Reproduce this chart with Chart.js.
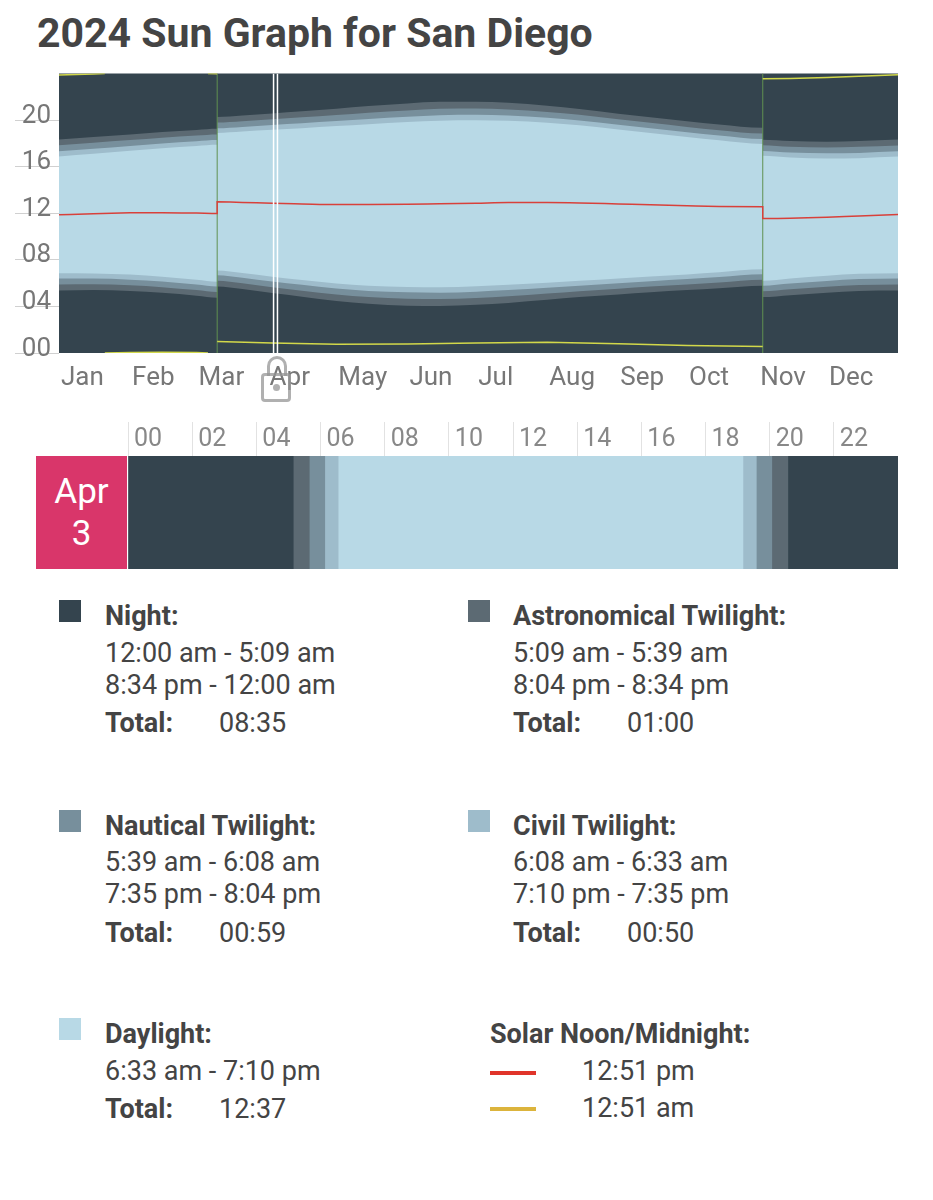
<!DOCTYPE html>
<html>
<head>
<meta charset="utf-8">
<title>2024 Sun Graph for San Diego</title>
<script src="https://cdn.jsdelivr.net/npm/chart.js@4"></script>
<style>
  body { margin: 0; width: 933px; height: 1200px; background: #fff; position: relative; overflow: hidden;
         font-family: Roboto, "Noto Sans", sans-serif; color: #444; }
  h1 { position: absolute; left: 37px; top: 9px; margin: 0; font-size: 41px; line-height: 48px; font-weight: 700; color: #444; }
  #yearBox { position: absolute; left: 0; top: 60px; width: 933px; height: 340px; }
  #dayBox { position: absolute; left: 0; top: 415px; width: 933px; height: 154px; }
  .date { position: absolute; left: 36px; top: 456px; width: 91px; height: 113px; box-sizing: border-box; padding-top: 15px;
          background: #d9366a; color: #fff; font-size: 35px; line-height: 42px; text-align: center; }
  .lock-body { position: absolute; left: 261px; top: 373px; width: 30px; height: 29px; box-sizing: border-box;
               border: 3px solid rgba(150,150,150,0.75); border-radius: 4px; }
  .lock-arc { position: absolute; left: 267px; top: 356px; width: 20px; height: 20px; box-sizing: border-box;
              border: 3px solid rgba(150,150,150,0.75); border-bottom: none; border-radius: 10px 10px 0 0; }
  .lock-dot { position: absolute; left: 273px; top: 384px; width: 7px; height: 7px; border-radius: 50%; background: rgba(150,150,150,0.75); }
  .t { position: absolute; font-size: 27px; line-height: 32px; white-space: nowrap; }
  .b { font-weight: 700; }
  .sw { position: absolute; width: 22px; height: 22px; }
  .ln { position: absolute; width: 46px; height: 4px; }
</style>
</head>
<body>
<h1>2024 Sun Graph for San Diego</h1>
<div id="yearBox"><canvas id="yearChart"></canvas></div>
<div class="lock-arc"></div><div class="lock-body"></div><div class="lock-dot"></div>
<div id="dayBox"><canvas id="dayChart"></canvas></div>
<div class="date">Apr<br>3</div>

<div class="sw" style="left:59px;top:600px;background:#34444e"></div>
<div class="t b" style="left:105px;top:600px">Night:</div>
<div class="t" style="left:105px;top:637px">12:00 am - 5:09 am</div>
<div class="t" style="left:105px;top:669px">8:34 pm - 12:00 am</div>
<div class="t b" style="left:105px;top:707px">Total:</div>
<div class="t" style="left:219px;top:707px">08:35</div>

<div class="sw" style="left:468px;top:600px;background:#5c6a73"></div>
<div class="t b" style="left:513px;top:600px">Astronomical Twilight:</div>
<div class="t" style="left:513px;top:637px">5:09 am - 5:39 am</div>
<div class="t" style="left:513px;top:669px">8:04 pm - 8:34 pm</div>
<div class="t b" style="left:513px;top:707px">Total:</div>
<div class="t" style="left:627px;top:707px">01:00</div>

<div class="sw" style="left:59px;top:810px;background:#778f9c"></div>
<div class="t b" style="left:105px;top:810px">Nautical Twilight:</div>
<div class="t" style="left:105px;top:846px">5:39 am - 6:08 am</div>
<div class="t" style="left:105px;top:878px">7:35 pm - 8:04 pm</div>
<div class="t b" style="left:105px;top:917px">Total:</div>
<div class="t" style="left:219px;top:917px">00:59</div>

<div class="sw" style="left:468px;top:810px;background:#9ebccb"></div>
<div class="t b" style="left:513px;top:810px">Civil Twilight:</div>
<div class="t" style="left:513px;top:846px">6:08 am - 6:33 am</div>
<div class="t" style="left:513px;top:878px">7:10 pm - 7:35 pm</div>
<div class="t b" style="left:513px;top:917px">Total:</div>
<div class="t" style="left:627px;top:917px">00:50</div>

<div class="sw" style="left:59px;top:1018px;background:#b8d9e6"></div>
<div class="t b" style="left:105px;top:1018px">Daylight:</div>
<div class="t" style="left:105px;top:1055px">6:33 am - 7:10 pm</div>
<div class="t b" style="left:105px;top:1093px">Total:</div>
<div class="t" style="left:219px;top:1093px">12:37</div>

<div class="t b" style="left:490px;top:1018px">Solar Noon/Midnight:</div>
<div class="ln" style="left:490px;top:1071px;background:#e0342a"></div>
<div class="t" style="left:582px;top:1055px">12:51 pm</div>
<div class="ln" style="left:490px;top:1107px;background:#dcb43c"></div>
<div class="t" style="left:582px;top:1092px">12:51 am</div>

<script>
// sample days (0 = Jan 1), a repeated day marks a clock change
const dayX = [0, 15, 31, 45, 60, 69, 69, 80, 93, 106, 121, 135, 152, 166, 182, 196, 213, 227, 244, 258, 274, 288, 307, 307, 319, 335, 349, 366];
const astroDawn = ['5:22','5:24','5:19','5:10','4:55','4:45','5:43','5:30','5:09','4:50','4:28','4:14','4:04','4:02','4:08','4:18','4:34','4:48','5:02','5:13','5:24','5:34','5:47','4:48','4:58','5:11','5:20','5:22'];
const nauticalDawn = ['5:53','5:54','5:49','5:39','5:24','5:14','6:12','5:59','5:39','5:21','5:01','4:48','4:40','4:38','4:43','4:52','5:06','5:18','5:31','5:42','5:53','6:03','6:17','5:18','5:28','5:41','5:50','5:53'];
const civilDawn = ['6:24','6:24','6:18','6:08','5:53','5:43','6:41','6:28','6:08','5:51','5:32','5:20','5:13','5:11','5:16','5:24','5:36','5:47','5:59','6:10','6:21','6:32','6:46','5:47','5:58','6:11','6:21','6:24'];
const sunrise = ['6:51','6:50','6:44','6:33','6:17','6:07','7:05','6:52','6:33','6:16','5:58','5:47','5:40','5:39','5:44','5:51','6:02','6:12','6:24','6:34','6:45','6:56','7:11','6:12','6:24','6:38','6:48','6:51'];
const sunset = ['16:52','17:06','17:22','17:35','17:47','17:53','18:54','19:01','19:10','19:18','19:29','19:39','19:50','19:57','19:59','19:56','19:46','19:33','19:12','18:54','18:33','18:16','17:57','16:56','16:47','16:42','16:44','16:52'];
const civilDusk = ['17:19','17:32','17:47','18:00','18:11','18:17','19:18','19:25','19:35','19:44','19:55','20:06','20:17','20:25','20:27','20:23','20:12','19:58','19:36','19:18','18:57','18:40','18:22','17:21','17:13','17:09','17:11','17:19'];
const nauticalDusk = ['17:50','18:03','18:17','18:29','18:40','18:46','19:47','19:54','20:04','20:14','20:26','20:38','20:50','20:58','21:00','20:55','20:42','20:27','20:04','19:46','19:25','19:08','18:51','17:50','17:42','17:39','17:42','17:49'];
const astroDusk = ['18:20','18:33','18:46','18:58','19:09','19:15','20:16','20:23','20:34','20:45','20:59','21:12','21:26','21:34','21:35','21:29','21:14','20:57','20:33','20:14','19:54','19:37','19:20','18:19','18:12','18:09','18:12','18:20'];
const solarNoon = ['11:52','11:58','12:02','12:03','12:01','11:59','12:59','12:56','12:51','12:48','12:45','12:45','12:46','12:49','12:52','12:55','12:55','12:53','12:48','12:44','12:39','12:35','12:33','11:33','11:34','11:39','11:46','11:53'];

// solar midnight wraps round the day, null breaks the line
const midnightX = [0, 15, 20, 20, 20, 31, 45, 60, 65, 65, 65, 69, 69, 69, 93, 121, 152, 182, 213, 244, 274, 307, 307, 307, 319, 335, 349, 366];
const solarMidnight = ['23:52','23:58','24:00',null,'0:00','0:02','0:04','0:02','0:00',null,'24:00','23:59',null,'0:59','0:51','0:45','0:46','0:52','0:55','0:48','0:39','0:33',null,'23:33','23:34','23:39','23:46','23:53'];

const dstDays = [69, 307];
const selectedLines = [93.6, 95.3];

const monthLabels = ['Jan','Feb','Mar','Apr','May','Jun','Jul','Aug','Sep','Oct','Nov','Dec'];
const monthStarts = [0, 31, 60, 91, 121, 152, 182, 213, 244, 274, 305, 335];
const yTicks = [0, 4, 8, 12, 16, 20];
const yLabels = ['00','04','08','12','16','20'];

// Apr 3
const dayEdges = ['0:00','5:09','5:39','6:08','6:33','19:10','19:35','20:04','20:34','24:00'];
const dayKinds = ['night','astro','nautical','civil','day','civil','nautical','astro','night'];
const hourTicks = [0, 2, 4, 6, 8, 10, 12, 14, 16, 18, 20, 22];
const hourLabels = ['00','02','04','06','08','10','12','14','16','18','20','22'];

const colors = { night: '#34444e', astro: '#5c6a73', nautical: '#778f9c', civil: '#9ebccb', day: '#b8d9e6' };

function toH(t) {
    if (t === null) return null;
    const p = t.split(':').map(Number);
    return p[0] + p[1] / 60;
}
function pts(xs, ys) {
    return xs.map((x, i) => ({x: x, y: toH(ys[i])}));
}
function band(arr, color, fill) {
    return {data: pts(dayX, arr), borderWidth: 0, pointRadius: 0, backgroundColor: color,
            fill: fill, cubicInterpolationMode: 'monotone'};
}
function vline(x, color, w) {
    return {data: [{x: x, y: 0}, {x: x, y: 24}], borderColor: color, borderWidth: w, pointRadius: 0, fill: false};
}

const nightBg = {
    id: 'nightBg',
    beforeDraw(c) {
        const a = c.chartArea;
        c.ctx.save();
        c.ctx.fillStyle = colors.night;
        c.ctx.fillRect(a.left, a.top, a.right - a.left, a.bottom - a.top);
        c.ctx.restore();
    }
};

const axisFont = {family: 'Roboto', size: 26};

new Chart('yearChart', {
    type: 'line',
    data: {
        datasets: [
            vline(selectedLines[0], '#ffffff', 1.5),
            vline(selectedLines[1], '#ffffff', 1.5),
            {data: pts(dayX, solarNoon), borderColor: '#d8403a', borderWidth: 1.5, pointRadius: 0, fill: false, cubicInterpolationMode: 'monotone'},
            {data: pts(midnightX, solarMidnight), borderColor: '#d2d84a', borderWidth: 1.5, pointRadius: 0, fill: false, spanGaps: false},
            vline(dstDays[0], '#5f9150', 1),
            vline(dstDays[1], '#5f9150', 1),
            band(sunset, colors.day, '+1'),
            band(sunrise, colors.day, false),
            band(civilDusk, colors.civil, '+1'),
            band(civilDawn, colors.civil, false),
            band(nauticalDusk, colors.nautical, '+1'),
            band(nauticalDawn, colors.nautical, false),
            band(astroDusk, colors.astro, '+1'),
            band(astroDawn, colors.astro, false)
        ]
    },
    options: {
        responsive: true,
        maintainAspectRatio: false,
        animation: false,
        layout: {padding: {left: 0, right: 35, top: 13.5, bottom: 0}},
        plugins: {legend: {display: false}, tooltip: {enabled: false}},
        scales: {
            x: {
                type: 'linear', min: 0, max: 366,
                afterBuildTicks: s => { s.ticks = monthStarts.map(v => ({value: v})); },
                afterFit: s => { s.height = 47; },
                ticks: {autoSkip: false, maxRotation: 0, align: 'start', labelOffset: 2, padding: 10,
                        color: '#777', font: axisFont, callback: (v, i) => monthLabels[i]},
                grid: {display: false, drawTicks: false},
                border: {display: false}
            },
            y: {
                min: 0, max: 24,
                afterBuildTicks: s => { s.ticks = yTicks.map(v => ({value: v})); },
                afterFit: s => { s.width = 59; },
                ticks: {padding: -36, labelOffset: -4, color: '#777', font: axisFont,
                        callback: (v, i) => yLabels[i]},
                grid: {drawOnChartArea: false, tickLength: 44, color: '#d0d0d0'},
                border: {display: false}
            }
        }
    },
    plugins: [nightBg]
});

const segs = dayKinds.map((k, i) => ({
    data: [[toH(dayEdges[i]), toH(dayEdges[i + 1])]],
    backgroundColor: colors[k],
    borderWidth: 0,
    grouped: false,
    barPercentage: 1,
    categoryPercentage: 1
}));

new Chart('dayChart', {
    type: 'bar',
    data: {labels: ['Apr 3'], datasets: segs},
    options: {
        indexAxis: 'y',
        responsive: true,
        maintainAspectRatio: false,
        animation: false,
        layout: {padding: {left: 128, right: 35, top: 0, bottom: 0}},
        plugins: {legend: {display: false}, tooltip: {enabled: false}},
        scales: {
            x: {
                type: 'linear', position: 'top', min: 0, max: 24,
                afterBuildTicks: s => { s.ticks = hourTicks.map(v => ({value: v})); },
                afterFit: s => { s.height = 41; },
                ticks: {autoSkip: false, maxRotation: 0, align: 'start', labelOffset: 6, padding: -33,
                        color: '#888', font: {family: 'Roboto', size: 25}, callback: (v, i) => hourLabels[i]},
                grid: {drawOnChartArea: false, tickLength: 34, color: '#e2e2e2'},
                border: {display: false}
            },
            y: {display: false}
        }
    }
});
</script>
</body>
</html>
